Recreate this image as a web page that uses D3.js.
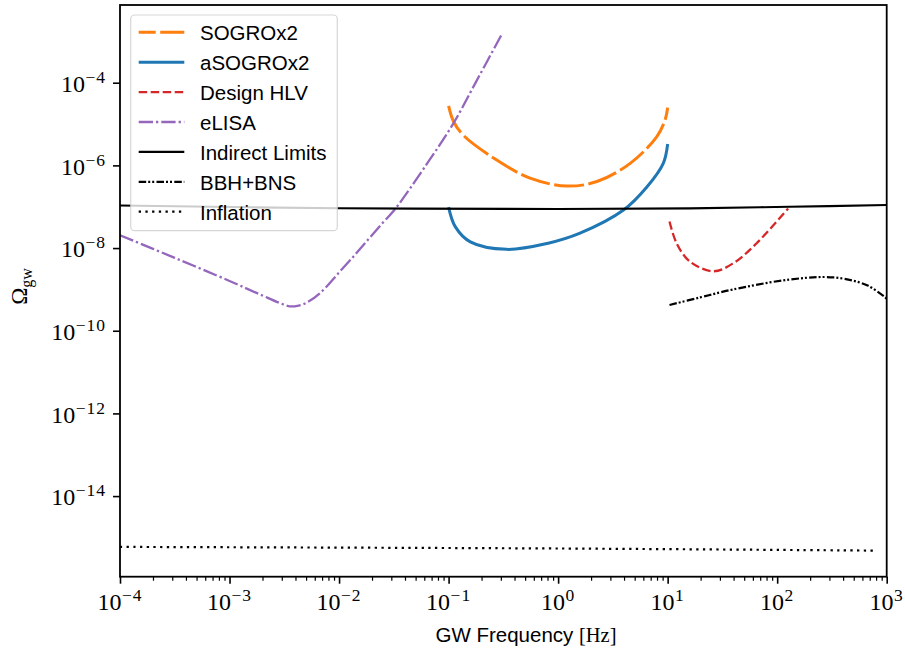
<!DOCTYPE html>
<html>
<head>
<meta charset="utf-8">
<script src="https://cdn.jsdelivr.net/npm/d3@7"></script>
<style>
  body { margin: 0; background: #fff; }
  svg { display: block; }
</style>
</head>
<body>
<div id="container"></div>
<script>
// values, [frequency (Hz), Omega_gw]
const sogro = [[0.1, 2.75e-5], [0.111, 1.15e-5], [0.136, 5.4e-6], [0.275, 1.35e-6], [0.555, 4.9e-7],
  [1.2, 3.16e-7], [2.26, 4.07e-7], [4.55, 1.12e-6], [7.94, 4.9e-6], [9.48, 1.26e-5], [10, 2.5e-5]]
const asogro = [[0.1, 9.8e-8], [0.115, 3.3e-8], [0.158, 1.41e-8], [0.339, 9.3e-9], [0.794, 1.29e-8],
  [1.585, 2.29e-8], [3.95, 8.3e-8], [6.46, 3.0e-7], [9.12, 1.12e-6], [10, 3.3e-6]]
const hlv = [[10.4, 4.4e-8], [12.1, 1.29e-8], [16.0, 4.7e-9], [26.2, 2.75e-9], [39.8, 4.3e-9],
  [64.6, 1.29e-8], [126, 9.1e-8]]
const elisa = [[1e-4, 2.04e-8], [3.16e-4, 5.8e-9], [1e-3, 1.6e-9], [2e-3, 7.1e-10], [2.82e-3, 4.8e-10],
  [3.55e-3, 3.9e-10], [4.27e-3, 4.07e-10], [5.07e-3, 4.8e-10], [6.7e-3, 8.1e-10], [1e-2, 2.57e-9],
  [1.35e-2, 6.2e-9], [1.58e-2, 1.0e-8], [2.51e-2, 4.1e-8], [3.24e-2, 8.7e-8], [6.31e-2, 1.07e-6],
  [0.111, 1.05e-5], [0.178, 1.05e-4], [0.31, 1.58e-3]]
const indirect = [[1e-4, 1.07e-7], [1e-2, 9.2e-8], [1, 8.8e-8], [16, 9.1e-8], [130, 1.0e-7], [1000, 1.1e-7]]
const bbhbns = [[10.4, 4.2e-10], [19.8, 6.4e-10], [39.8, 1.0e-9], [132, 1.74e-9], [327, 1.95e-9],
  [661, 1.26e-9], [1000, 6.0e-10]]
const inflation = [[1e-4, 5.9e-16], [1, 5.4e-16], [800, 4.8e-16]]

const xMajor = [1e-4, 1e-3, 1e-2, 1e-1, 1, 10, 100, 1000]
const xExp = [-4, -3, -2, -1, 0, 1, 2, 3]
const yMajor = [1e-4, 1e-6, 1e-8, 1e-10, 1e-12, 1e-14]
const yExp = [-4, -6, -8, -10, -12, -14]

const series = [
  { name: "SOGROx2", data: sogro, color: "#ff7f0e", width: 3, dash: "30,4.5" },
  { name: "aSOGROx2", data: asogro, color: "#1f77b4", width: 3, dash: null },
  { name: "Design HLV", data: hlv, color: "#d62728", width: 2.3, dash: "8.5,3.5" },
  { name: "eLISA", data: elisa, color: "#9467bd", width: 2.3, dash: "14.3,3,2.3,3" },
  { name: "Indirect Limits", data: indirect, color: "#000", width: 2.2, dash: null },
  { name: "BBH+BNS", data: bbhbns, color: "#000", width: 2.2, dash: "7.5,2,2,2,2,2.3" },
  { name: "Inflation", data: inflation, color: "#000", width: 2.2, dash: "2.3,4.4" }
]

let width = 905, height = 655
let margin = { top: 5, right: 18.3, bottom: 78.3, left: 120 }

const sans = "'Liberation Sans', Arial, sans-serif"
const serif = "'Liberation Serif', 'Times New Roman', serif"

const svg = d3.select("div#container").append("svg")
  .attr("width", width)
  .attr("height", height)

const x = d3.scaleLog()
  .domain([1e-4, 1e3])
  .range([margin.left, width - margin.right])

const y = d3.scaleLog()
  .domain([Math.pow(10, -15.95), Math.pow(10, -2.12)])
  .range([height - margin.bottom, margin.top])

svg.append("clipPath").attr("id", "plotclip")
  .append("rect")
  .attr("x", margin.left).attr("y", margin.top)
  .attr("width", width - margin.left - margin.right)
  .attr("height", height - margin.top - margin.bottom)

const line = d3.line()
  .x(d => x(d[0]))
  .y(d => y(d[1]))
  .curve(d3.curveCatmullRom.alpha(0.5))

svg.append("g")
  .attr("clip-path", "url(#plotclip)")
  .selectAll("path")
  .data(series)
  .join("path")
  .attr("d", d => line(d.data))
  .attr("fill", "none")
  .attr("stroke", d => d.color)
  .attr("stroke-width", d => d.width)
  .attr("stroke-dasharray", d => d.dash)

// x axis: major + minor ticks
const xMinor = []
for (let k = -4; k < 3; k++) for (let m = 2; m < 10; m++) xMinor.push(m * Math.pow(10, k))

const gx = svg.append("g")
  .attr("transform", `translate(0,${height - margin.bottom})`)
gx.append("g")
  .call(d3.axisBottom(x).tickValues(xMinor).tickSize(4).tickFormat(""))
  .call(g => g.select(".domain").remove())
  .call(g => g.selectAll(".tick line").attr("stroke-width", 1.2))
gx.append("g")
  .call(d3.axisBottom(x).tickValues(xMajor).tickSize(7).tickFormat(""))
  .call(g => g.select(".domain").remove())
  .call(g => g.selectAll(".tick line").attr("stroke-width", 1.6))

function powerLabel(sel, exps) {
  sel.each(function (d, i) {
    const t = d3.select(this)
    t.append("tspan").attr("font-size", 24).text("10")
    t.append("tspan").attr("font-size", 17.5).attr("dy", -9).attr("dx", 0.5)
      .attr("letter-spacing", 1)
      .text(exps[i] < 0 ? "\u2212" + (-exps[i]) : exps[i])
  })
}

svg.append("g")
  .selectAll("text")
  .data(xMajor)
  .join("text")
  .attr("x", d => x(d))
  .attr("y", height - margin.bottom + 33.3)
  .attr("text-anchor", "middle")
  .attr("font-family", serif)
  .call(powerLabel, xExp)

// y axis
svg.append("g")
  .attr("transform", `translate(${margin.left},0)`)
  .call(d3.axisLeft(y).tickValues(yMajor).tickSize(7).tickFormat(""))
  .call(g => g.select(".domain").remove())
  .call(g => g.selectAll(".tick line").attr("stroke-width", 1.6))

svg.append("g")
  .selectAll("text")
  .data(yMajor)
  .join("text")
  .attr("x", margin.left - 14)
  .attr("y", d => y(d) + 9.4)
  .attr("text-anchor", "end")
  .attr("font-family", serif)
  .call(powerLabel, yExp)

// frame
svg.append("rect")
  .attr("x", margin.left).attr("y", margin.top)
  .attr("width", width - margin.left - margin.right)
  .attr("height", height - margin.top - margin.bottom)
  .attr("fill", "none")
  .attr("stroke", "#000")
  .attr("stroke-width", 1.8)

// axis titles
const xt = svg.append("text")
  .attr("x", 526)
  .attr("y", 641.5)
  .attr("text-anchor", "middle")
  .attr("font-size", 20.5)
xt.append("tspan").attr("font-family", sans).text("GW Frequency ")
xt.append("tspan").attr("font-family", serif).text("[Hz]")

const yt = svg.append("text")
  .attr("transform", "translate(27,286.5) rotate(-90)")
  .attr("text-anchor", "middle")
  .attr("font-family", serif)
yt.append("tspan").attr("font-size", 23).text("\u03a9")
yt.append("tspan").attr("font-size", 16).attr("dy", 4.5).text("gw")

// legend
const lg = svg.append("g")
lg.append("rect")
  .attr("x", 130.7).attr("y", 15)
  .attr("width", 206.6).attr("height", 215.7)
  .attr("rx", 4)
  .attr("fill", "#fff").attr("fill-opacity", 0.8)
  .attr("stroke", "#ccc").attr("stroke-opacity", 0.8)
  .attr("stroke-width", 1.2)

const rows = lg.selectAll("g.row")
  .data(series)
  .join("g")
  .attr("class", "row")
  .attr("transform", (d, i) => `translate(0,${32.3 + i * 29.9})`)

rows.append("line")
  .attr("x1", 138.7).attr("x2", 184.3)
  .attr("stroke", d => d.color)
  .attr("stroke-width", d => d.width)
  .attr("stroke-dasharray", d => d.dash)
  .attr("stroke-dashoffset", (d, i) => i === 0 ? 13 : 0)

rows.append("text")
  .attr("x", 200)
  .attr("y", 7.8)
  .attr("font-family", sans)
  .attr("font-size", 20.5)
  .text(d => d.name)
</script>
</body>
</html>
